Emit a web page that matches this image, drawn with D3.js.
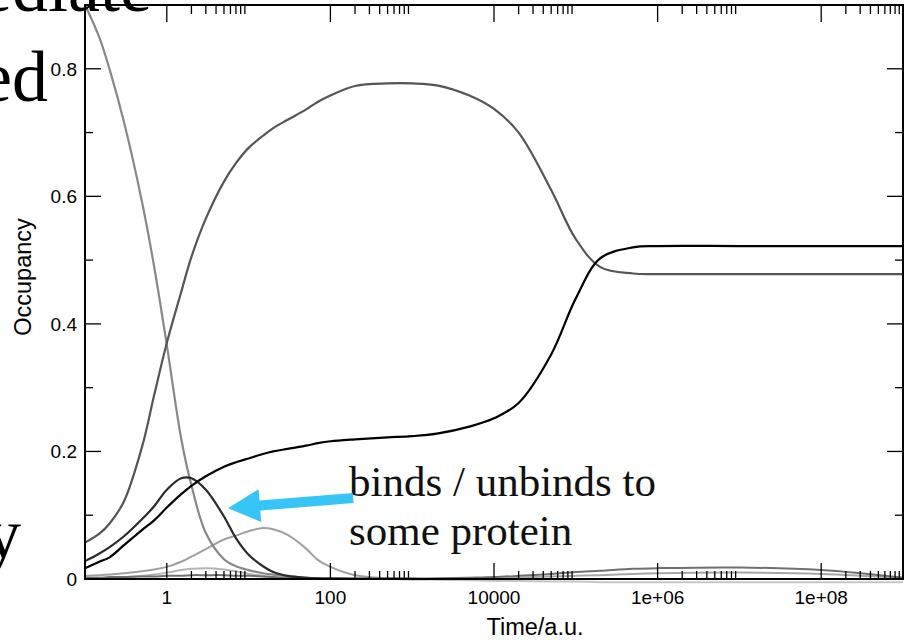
<!DOCTYPE html>
<html>
<head>
<meta charset="utf-8">
<script src="https://cdn.jsdelivr.net/npm/d3@7"></script>
<style>
  html, body { margin: 0; padding: 0; background: #fff; }
  svg { display: block; }
</style>
</head>
<body>
<svg id="chart" width="910" height="640"></svg>
<script>
// ---------------- data ----------------
const times = [0.1,0.15,0.2,0.3,0.5,0.7,1,1.5,2,3,5,7,10,15,20,30,50,70,100,200,500,
               1e3,2e3,5e3,1e4,2e4,5e4,1e5,2e5,5e5,1e6,1e7,1e8,1e9];

const seriesFree    = [0.90,0.849,0.799,0.716,0.59,0.49,0.367,0.22,0.147,0.072,0.031,0.02,0.014,0.009,0.007,0.004,0.002,0.001,0.0005,0,0,
                       0,0,0,0,0,0,0,0,0,0,0,0,0];
const seriesMajor   = [0.057,0.071,0.087,0.122,0.208,0.288,0.37,0.45,0.505,0.565,0.623,0.652,0.676,0.695,0.707,0.72,0.736,0.748,0.758,0.773,0.777,
                       0.777,0.774,0.758,0.737,0.70,0.61,0.533,0.489,0.479,0.478,0.478,0.478,0.478];
const seriesFinal   = [0.017,0.027,0.034,0.053,0.077,0.092,0.112,0.133,0.146,0.161,0.176,0.183,0.189,0.196,0.2,0.204,0.209,0.213,0.216,0.219,0.222,
                       0.224,0.228,0.239,0.252,0.276,0.352,0.44,0.503,0.52,0.522,0.522,0.522,0.522];
const seriesEarly   = [0.028,0.040,0.050,0.067,0.094,0.114,0.140,0.158,0.158,0.14,0.098,0.064,0.038,0.02,0.011,0.005,0.002,0.001,0.0005,0,0,
                       0,0,0,0,0,0,0,0,0,0,0,0,0];
const seriesMid     = [0.005,0.006,0.007,0.009,0.012,0.015,0.019,0.027,0.035,0.047,0.062,0.068,0.075,0.08,0.078,0.069,0.048,0.03,0.019,0.006,0.001,
                       0,0,0,0,0,0,0,0,0,0,0,0,0];
const seriesSmall   = [0.001,0.0015,0.002,0.003,0.005,0.007,0.01,0.014,0.016,0.017,0.015,0.012,0.008,0.005,0.003,0.0015,0.0005,0,0,0,0,
                       0,0,0,0,0,0,0,0,0,0,0,0,0];
const seriesLateA   = [0.002,0.002,0.003,0.003,0.004,0.004,0.005,0.005,0.006,0.006,0.006,0.005,0.005,0.004,0.003,0.002,0.002,0.001,0.001,0.001,0.001,
                       0.001,0.001,0.002,0.003,0.005,0.008,0.011,0.013,0.016,0.017,0.018,0.014,0.002];
const seriesLateB   = [0,0,0,0,0,0,0,0,0,0,0,0,0,0,0,0,0,0,0,0,0,
                       0,0,0,0.001,0.002,0.004,0.005,0.006,0.008,0.009,0.01,0.008,0.002];
const seriesLateC   = [0,0,0,0,0,0,0,0,0,0,0,0,0,0,0,0,0,0,0,0,0,
                       -0.001,-0.001,-0.002,-0.003,-0.003,-0.004,-0.004,-0.005,-0.005,-0.005,-0.005,-0.005,-0.005];

const xTickLabels = ["1","100","10000","1e+06","1e+08"];
const xTickValues = [1,100,1e4,1e6,1e8];
const yTickValues = [0,0.2,0.4,0.6,0.8];
const yTickLabels = ["0","0.2","0.4","0.6","0.8"];
const yMinorValues = [0.1,0.3,0.5,0.7];

const slideLines = ["ediate","ed","y"];
const noteLines = ["binds / unbinds to","some protein"];
const arrowFrom = [190, 0.127];
const arrowTo = [5.6, 0.111];

// ---------------- layout ----------------
const svg = d3.select("#chart");
const L = 85, R = 903, T = 5, B = 579;

const x = d3.scaleLog().domain([0.1, 1e9]).range([L, R]);
const y = d3.scaleLinear().domain([0, 0.9]).range([B, T]);

svg.append("rect").attr("width",910).attr("height",640).attr("fill","#fff");

const series = [
  {v: seriesLateC, c: "#c6c6c6", w: 2},
  {v: seriesSmall, c: "#b4b4b4", w: 2},
  {v: seriesLateB, c: "#a6a6a6", w: 2},
  {v: seriesMid,   c: "#a0a0a0", w: 2},
  {v: seriesLateA, c: "#707070", w: 2},
  {v: seriesFree,  c: "#888888", w: 2.2},
  {v: seriesMajor, c: "#555555", w: 2.2},
  {v: seriesEarly, c: "#2a2a2a", w: 2.2},
  {v: seriesFinal, c: "#000000", w: 2.2}
];

const line = d3.line()
  .x(d => x(d[0]))
  .y(d => y(d[1]))
  .curve(d3.curveCatmullRom.alpha(0.5));

const gLines = svg.append("g");
series.forEach(s => {
  gLines.append("path")
    .attr("d", line(times.map((t,i) => [t, s.v[i]])))
    .attr("fill","none")
    .attr("stroke", s.c)
    .attr("stroke-width", s.w)
    .attr("stroke-linejoin","round");
});

// ---------------- axes ----------------
const axisColor = "#000";
const tickFont = "'Liberation Sans', Arial, Helvetica, sans-serif";
const gAx = svg.append("g");

const xMinor = [];
xTickValues.concat([0.01]).forEach(m => {
  for (let k = 2; k <= 9; k++) {
    const v = m * k;
    if (v > 0.1 && v < 1e9) xMinor.push(v);
  }
});
gAx.selectAll(".xmaj-b").data(xTickValues).join("line")
  .attr("x1", d => x(d)).attr("x2", d => x(d)).attr("y1", B).attr("y2", B - 16)
  .attr("stroke", axisColor).attr("stroke-width", 1.3);
gAx.selectAll(".xmin-b").data(xMinor).join("line")
  .attr("x1", d => x(d)).attr("x2", d => x(d)).attr("y1", B).attr("y2", B - 8)
  .attr("stroke", axisColor).attr("stroke-width", 1.3);
gAx.selectAll(".xmaj-t").data(xTickValues).join("line")
  .attr("x1", d => x(d)).attr("x2", d => x(d)).attr("y1", T).attr("y2", T + 17)
  .attr("stroke", axisColor).attr("stroke-width", 1.3);
gAx.selectAll(".xmin-t").data(xMinor).join("line")
  .attr("x1", d => x(d)).attr("x2", d => x(d)).attr("y1", T).attr("y2", T + 9)
  .attr("stroke", axisColor).attr("stroke-width", 1.3);

gAx.selectAll(".ymaj-l").data(yTickValues).join("line")
  .attr("x1", L).attr("x2", L + 16).attr("y1", d => y(d)).attr("y2", d => y(d))
  .attr("stroke", axisColor).attr("stroke-width", 1.3);
gAx.selectAll(".ymin-l").data(yMinorValues).join("line")
  .attr("x1", L).attr("x2", L + 8).attr("y1", d => y(d)).attr("y2", d => y(d))
  .attr("stroke", axisColor).attr("stroke-width", 1.3);
gAx.selectAll(".ymaj-r").data(yTickValues).join("line")
  .attr("x1", R).attr("x2", R - 16).attr("y1", d => y(d)).attr("y2", d => y(d))
  .attr("stroke", axisColor).attr("stroke-width", 1.3);
gAx.selectAll(".ymin-r").data(yMinorValues).join("line")
  .attr("x1", R).attr("x2", R - 8).attr("y1", d => y(d)).attr("y2", d => y(d))
  .attr("stroke", axisColor).attr("stroke-width", 1.3);

gAx.append("rect").attr("x", L).attr("y", T).attr("width", R - L).attr("height", B - T)
  .attr("fill","none").attr("stroke", axisColor).attr("stroke-width", 2);

gAx.selectAll(".xlab").data(xTickValues).join("text")
  .attr("x", d => x(d)).attr("y", B + 25)
  .attr("text-anchor","middle")
  .attr("font-family", tickFont).attr("font-size", 19)
  .text((d,i) => xTickLabels[i]);
gAx.selectAll(".ylab").data(yTickValues).join("text")
  .attr("x", L - 8).attr("y", d => y(d) + 7)
  .attr("text-anchor","end")
  .attr("font-family", tickFont).attr("font-size", 19)
  .text((d,i) => yTickLabels[i]);

svg.append("text").attr("x", 535).attr("y", 635)
  .attr("text-anchor","middle").attr("font-family", tickFont).attr("font-size", 23.5)
  .text("Time/a.u.");
svg.append("text").attr("transform","translate(31,277) rotate(-90)")
  .attr("text-anchor","middle").attr("font-family", tickFont).attr("font-size", 23.5)
  .text("Occupancy");

// ---------------- slide text ----------------
const serif = "'Liberation Serif', 'Times New Roman', Times, serif";
const slidePos = [[152, 11], [48, 101], [21, 558]];
slideLines.forEach((s, i) => {
  svg.append("text").attr("x", slidePos[i][0]).attr("y", slidePos[i][1])
    .attr("text-anchor","end").attr("font-family", serif).attr("font-size", 72)
    .attr("fill","#000").text(s);
});

noteLines.forEach((s, i) => {
  svg.append("text").attr("x", 349).attr("y", 496 + i * 49)
    .attr("font-family", serif).attr("font-size", 43).attr("fill", "#111").text(s);
});

(function drawArrow() {
  const x0 = x(arrowFrom[0]), y0 = y(arrowFrom[1]);
  const x1 = x(arrowTo[0]),   y1 = y(arrowTo[1]);
  const dx = x1 - x0, dy = y1 - y0, len = Math.hypot(dx, dy);
  const ux = dx / len, uy = dy / len, px = -uy, py = ux;
  const sw = 5, hw = 16.5, hl = 32;
  const bx = x1 - ux * hl, by = y1 - uy * hl;
  const pts = [
    [x0 + px * sw, y0 + py * sw],
    [bx + px * sw, by + py * sw],
    [bx + px * hw, by + py * hw],
    [x1, y1],
    [bx - px * hw, by - py * hw],
    [bx - px * sw, by - py * sw],
    [x0 - px * sw, y0 - py * sw]
  ];
  svg.append("path").attr("d", "M" + pts.map(p => p.join(",")).join("L") + "Z")
    .attr("fill", "#36c5f6");
})();
</script>
</body>
</html>
